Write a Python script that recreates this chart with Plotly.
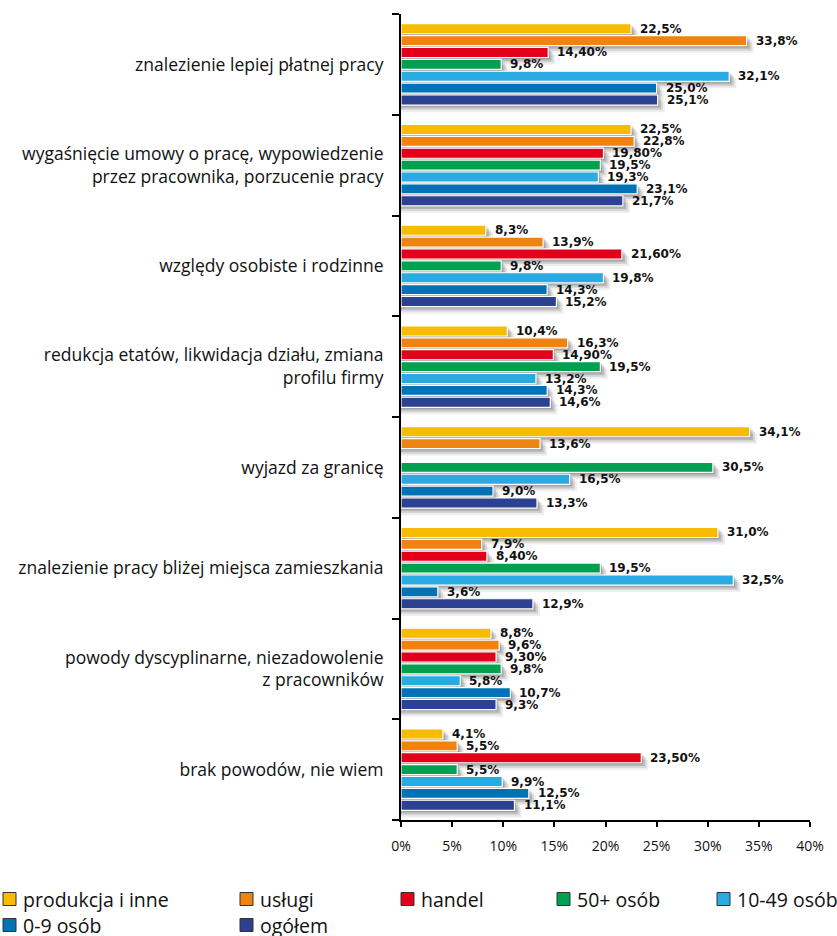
import plotly.graph_objects as go

categories = [
    "znalezienie lepiej płatnej pracy",
    "wygaśnięcie umowy o pracę, wypowiedzenie<br>przez pracownika, porzucenie pracy",
    "względy osobiste i rodzinne",
    "redukcja etatów, likwidacja działu, zmiana<br>profilu firmy",
    "wyjazd za granicę",
    "znalezienie pracy bliżej miejsca zamieszkania",
    "powody dyscyplinarne, niezadowolenie<br>z pracowników",
    "brak powodów, nie wiem",
]

series_names = ["produkcja i inne", "usługi", "handel", "50+ osób", "10-49 osób", "0-9 osób", "ogółem"]
series_colors = ["#F7BC00", "#EE8311", "#E2001A", "#00A050", "#29AAE1", "#0072B5", "#2C4191"]

produkcja = [22.5, 22.5, 8.3, 10.4, 34.1, 31.0, 8.8, 4.1]
uslugi = [33.8, 22.8, 13.9, 16.3, 13.6, 7.9, 9.6, 5.5]
handel = [14.40, 19.80, 21.60, 14.90, None, 8.40, 9.30, 23.50]
osob50 = [9.8, 19.5, 9.8, 19.5, 30.5, 19.5, 9.8, 5.5]
osob10_49 = [32.1, 19.3, 19.8, 13.2, 16.5, 32.5, 5.8, 9.9]
osob0_9 = [25.0, 23.1, 14.3, 14.3, 9.0, 3.6, 10.7, 12.5]
ogolem = [25.1, 21.7, 15.2, 14.6, 13.3, 12.9, 9.3, 11.1]

handel_labels = ["14,40%", "19,80%", "21,60%", "14,90%", "", "8,40%", "9,30%", "23,50%"]

x_tickvals = [0, 5, 10, 15, 20, 25, 30, 35, 40]
x_ticktext = ["0%", "5%", "10%", "15%", "20%", "25%", "30%", "35%", "40%"]

all_series = [produkcja, uslugi, handel, osob50, osob10_49, osob0_9, ogolem]


def fmt(v):
    return ("%.1f" % v).replace(".", ",") + "%"


all_labels = []
for k, s in enumerate(all_series):
    if k == 2:
        all_labels.append(handel_labels)
    else:
        all_labels.append([fmt(v) if v is not None else "" for v in s])

PITCH = 0.118
BARW = 0.1
ypos = list(range(len(categories)))

fig = go.Figure()

# soft drop shadows behind the bars
for k, s in enumerate(all_series):
    off = (k - 3) * PITCH - BARW / 2
    for dx, dy, op in [(0.7, 0.07, 0.09), (0.5, 0.05, 0.15), (0.32, 0.032, 0.2), (0.15, 0.015, 0.22)]:
        fig.add_trace(go.Bar(
            y=ypos, x=[(v + dx) if v is not None else None for v in s],
            orientation="h", offset=off + dy, width=BARW,
            marker=dict(color="rgba(70,70,70,%.2f)" % op, line=dict(width=0)),
            showlegend=False, hoverinfo="skip",
        ))

for k, s in enumerate(all_series):
    off = (k - 3) * PITCH - BARW / 2
    fig.add_trace(go.Bar(
        y=ypos, x=s, orientation="h", offset=off, width=BARW,
        marker=dict(color=series_colors[k], line=dict(color="white", width=1.2)),
        name=series_names[k], showlegend=False,
    ))
    for i, v in enumerate(s):
        if v is None:
            continue
        fig.add_annotation(
            x=v, y=i + (k - 3) * PITCH, text="<b>" + all_labels[k][i] + "</b>",
            xanchor="left", yanchor="middle", xshift=7, showarrow=False,
            font=dict(family="DejaVu Sans", size=12, color="#111111"),
        )

# legend (laid out in two rows like the original)
PL, PR, PT, PB = 401.0, 810.0, 14.0, 820.0


def px_x(px):
    return (px - PL) / (PR - PL)


def px_y(py):
    return (PB - py) / (PB - PT)


leg_sq_x = [3, 240, 401, 557, 717, 3, 240]
leg_row_y = [899, 899, 899, 899, 899, 925, 925]
for k, name in enumerate(series_names):
    sx, cy = leg_sq_x[k], leg_row_y[k]
    fig.add_shape(type="rect", xref="paper", yref="paper",
                  x0=px_x(sx), x1=px_x(sx + 13), y0=px_y(cy + 6.5), y1=px_y(cy - 6.5),
                  fillcolor=series_colors[k], line=dict(color="#333333", width=1))
    fig.add_annotation(xref="paper", yref="paper", x=px_x(sx + 18), y=px_y(cy),
                       text=name, xanchor="left", yanchor="middle", showarrow=False,
                       font=dict(family="Open Sans", size=19.5, color="#111111"))

fig.update_layout(
    width=837, height=936,
    margin=dict(l=401, r=27, t=14, b=116),
    paper_bgcolor="white", plot_bgcolor="white",
    barmode="overlay", showlegend=False,
    xaxis=dict(
        range=[0, 40], tickvals=x_tickvals, ticktext=x_ticktext, automargin=False,
        showgrid=False, zeroline=False,
        showline=True, linecolor="black", linewidth=2,
        ticks="outside", ticklen=5, tickwidth=2, tickcolor="black",
        ticklabelstandoff=7,
        tickfont=dict(family="Open Sans", size=14, color="#111111"),
    ),
    yaxis=dict(
        range=[7.5, -0.5], tickvals=ypos, ticktext=categories, automargin=False,
        showgrid=False, zeroline=False,
        showline=True, linecolor="black", linewidth=2,
        ticks="", ticklabelstandoff=12,
        tickfont=dict(family="Open Sans", size=17.5, color="#111111"),
        minor=dict(tickvals=[i - 0.5 for i in range(9)], ticks="outside",
                   ticklen=7, tickwidth=2, tickcolor="black"),
    ),
)

fig.write_html(
    "out.html",
    config={"displayModeBar": False},
    post_script="document.body.style.margin='0';document.body.style.overflow='hidden';",
)
